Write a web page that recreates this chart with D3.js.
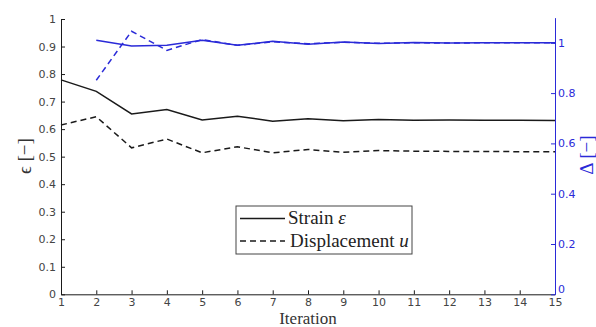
<!DOCTYPE html>
<html>
<head>
<meta charset="utf-8">
<script src="https://cdn.jsdelivr.net/npm/d3@7"></script>
<style>
  html, body { margin: 0; padding: 0; background: #fff; }
  svg { display: block; }
  .tick text { font-family: "DejaVu Sans", sans-serif; font-size: 11px; }
</style>
</head>
<body>
<svg id="chart" width="596" height="327"></svg>
<script>
// Iteration index
const iterations = [1, 2, 3, 4, 5, 6, 7, 8, 9, 10, 11, 12, 13, 14, 15];

// Relative error ϵ (left axis)
const strainEps = [0.779, 0.737, 0.655, 0.671, 0.633, 0.647, 0.629, 0.638, 0.630, 0.635, 0.632, 0.633, 0.632, 0.632, 0.631];
const displEps  = [0.615, 0.645, 0.532, 0.564, 0.514, 0.536, 0.514, 0.526, 0.516, 0.522, 0.520, 0.519, 0.519, 0.518, 0.518];

// Ratio Δ (right axis), defined from the second iteration on
const deltaIter   = [2, 3, 4, 5, 6, 7, 8, 9, 10, 11, 12, 13, 14, 15];
const strainDelta = [1.010, 0.987, 0.990, 1.010, 0.990, 1.006, 0.994, 1.003, 0.997, 1.001, 0.999, 1.000, 1.000, 1.000];
const displDelta  = [0.851, 1.046, 0.970, 1.013, 0.990, 1.004, 0.996, 1.002, 0.998, 1.000, 0.999, 1.000, 1.000, 1.000];

// Tick values
const leftTicks  = [0, 0.1, 0.2, 0.3, 0.4, 0.5, 0.6, 0.7, 0.8, 0.9, 1];
const rightTicks = [0, 0.2, 0.4, 0.6, 0.8, 1];

const legendLabels = ["Strain", "Displacement"];
const legendSymbols = ["ε", "u"];

const BLACK = "#1a1a1a";
const BLUE = "#2a2ad8";
const GREY = "#444";

const svg = d3.select("#chart");

const x  = d3.scaleLinear().domain([1, 15]).range([61, 555]);
const yL = d3.scaleLinear().domain([0, 1]).range([294.3, 19]);
const yR = d3.scaleLinear().domain([0, 1.1]).range([294.3, 294.3 - 1.1 * 251.5]);

const fmt = d => String(+d.toFixed(1));

// Bottom axis
const gx = svg.append("g")
  .attr("transform", `translate(0,${yL(0)})`)
  .call(d3.axisBottom(x).tickValues(iterations).tickFormat(d3.format("d"))
    .tickSizeInner(-4).tickSizeOuter(0).tickPadding(4));
gx.select(".domain").attr("stroke", BLACK);
gx.selectAll(".tick line").attr("stroke", BLACK);
gx.selectAll(".tick text").attr("fill", GREY);

// Left axis
const gl = svg.append("g")
  .attr("transform", `translate(${x(1)},0)`)
  .call(d3.axisLeft(yL).tickValues(leftTicks).tickFormat(fmt)
    .tickSizeInner(-4).tickSizeOuter(0).tickPadding(5));
gl.select(".domain").attr("stroke", BLACK);
gl.selectAll(".tick line").attr("stroke", BLACK);
gl.selectAll(".tick text").attr("fill", GREY);

// Right axis
const gr = svg.append("g")
  .attr("transform", `translate(${x(15)},0)`)
  .call(d3.axisRight(yR).tickValues(rightTicks).tickFormat(fmt)
    .tickSizeInner(-4).tickSizeOuter(0).tickPadding(3));
gr.select(".domain").attr("stroke", BLUE);
gr.selectAll(".tick line").attr("stroke", BLUE);
gr.selectAll(".tick text").attr("fill", BLUE);
// lift the corner "0" so it clears the last iteration label
gr.selectAll(".tick").filter(d => d === 0).select("text").attr("dy", "-0.2em");

// Series lines
const lineL = d3.line().x((d, i) => x(iterations[i])).y(d => yL(d));
const lineR = d3.line().x((d, i) => x(deltaIter[i])).y(d => yR(d));

svg.append("path").datum(strainEps).attr("d", lineL)
  .attr("fill", "none").attr("stroke", BLACK).attr("stroke-width", 1.5);
svg.append("path").datum(displEps).attr("d", lineL)
  .attr("fill", "none").attr("stroke", BLACK).attr("stroke-width", 1.5)
  .attr("stroke-dasharray", "6,4");
svg.append("path").datum(strainDelta).attr("d", lineR)
  .attr("fill", "none").attr("stroke", BLUE).attr("stroke-width", 1.5);
svg.append("path").datum(displDelta).attr("d", lineR)
  .attr("fill", "none").attr("stroke", BLUE).attr("stroke-width", 1.5)
  .attr("stroke-dasharray", "6,4");

// Axis titles
const serif = '"Liberation Serif", "DejaVu Serif", serif';
svg.append("text")
  .attr("x", 308).attr("y", 324)
  .attr("text-anchor", "middle")
  .attr("font-family", serif).attr("font-size", 17).attr("fill", "#333")
  .text("Iteration");

svg.append("text")
  .attr("transform", "translate(31,156) rotate(-90)")
  .attr("text-anchor", "middle")
  .attr("font-family", serif).attr("font-size", 19).attr("fill", "#333")
  .text("ϵ [−]");

svg.append("text")
  .attr("transform", "translate(593,155) rotate(-90)")
  .attr("text-anchor", "middle")
  .attr("font-family", serif).attr("font-size", 19).attr("fill", BLUE)
  .text("Δ [−]");

// Legend
const legend = svg.append("g");
legend.append("rect")
  .attr("x", 236).attr("y", 206).attr("width", 176).attr("height", 48)
  .attr("fill", "#fff").attr("stroke", "#444").attr("stroke-width", 1);

const rowsY = [218.5, 241];
const dashes = [null, "6,4"];
legendLabels.forEach((lab, i) => {
  legend.append("line")
    .attr("x1", 240).attr("x2", 285)
    .attr("y1", rowsY[i]).attr("y2", rowsY[i])
    .attr("stroke", BLACK).attr("stroke-width", 1.5)
    .attr("stroke-dasharray", dashes[i]);
  const t = legend.append("text")
    .attr("x", i === 0 ? 288 : 290).attr("y", rowsY[i] + 5.5)
    .attr("font-family", serif).attr("font-size", 19).attr("fill", "#222");
  t.append("tspan").text(lab + " ");
  t.append("tspan").attr("font-style", "italic").text(legendSymbols[i]);
});
</script>
</body>
</html>
